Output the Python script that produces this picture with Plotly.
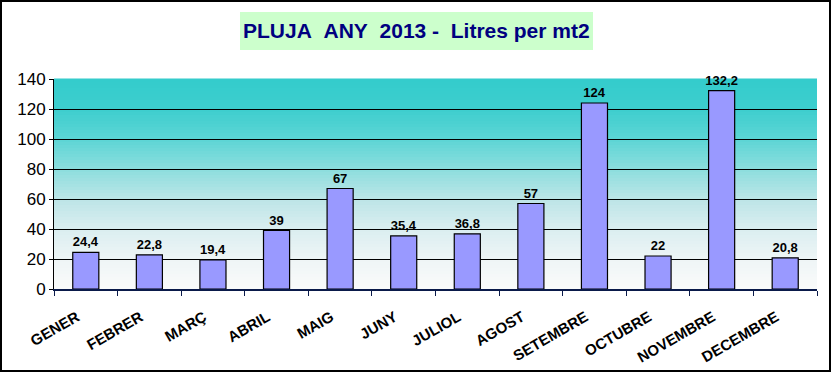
import plotly.graph_objects as go

months = ["GENER", "FEBRER", "MARÇ", "ABRIL", "MAIG", "JUNY", "JULIOL",
          "AGOST", "SETEMBRE", "OCTUBRE", "NOVEMBRE", "DECEMBRE"]
rain = [24.4, 22.8, 19.4, 39, 67, 35.4, 36.8, 57, 124, 22, 132.2, 20.8]
y_ticks = [0, 20, 40, 60, 80, 100, 120, 140]
title_text = "PLUJA\u00a0\u00a0ANY\u00a0\u00a02013\u00a0-\u00a0\u00a0Litres per mt2"

labels = [f"{v:g}".replace(".", ",") for v in rain]

W, H = 833, 373
L, R, T, B = 54, 16, 79, 84
PW, PH = W - L - R, H - T - B


def px(x):
    return (x - L) / PW


def py(y):
    return (H - B - y) / PH


FONT = "Arial, Liberation Sans, sans-serif"

fig = go.Figure(go.Bar(
    x=months, y=rain, text=labels, textposition="outside",
    textfont=dict(family=FONT, size=13, color="black", weight="bold"),
    marker=dict(color="#9999FF", line=dict(color="black", width=1.2)),
    cliponaxis=False, constraintext="none",
))

# gradient background (styling)
anchors = [(0.0, (250, 251, 251)), (1/7, (238, 245, 246)), (2/7, (218, 238, 240)),
           (3/7, (188, 229, 231)), (4/7, (140, 222, 222)), (5/7, (92, 213, 213)),
           (6/7, (62, 206, 206)), (1.0, (51, 204, 204))]
shapes = []
N = 70
for i in range(N):
    f0, f1 = i / N, (i + 1) / N
    fm = (f0 + f1) / 2
    for j in range(len(anchors) - 1):
        a, ca = anchors[j]
        b, cb = anchors[j + 1]
        if a <= fm <= b:
            t = (fm - a) / (b - a)
            c = tuple(int(round(ca[k] + (cb[k] - ca[k]) * t)) for k in range(3))
            break
    shapes.append(dict(type="rect", xref="paper", yref="paper", x0=0, x1=1,
                       y0=f0, y1=f1 + 0.002, fillcolor=f"rgb{c}",
                       line=dict(width=0), layer="below"))

# title box
shapes.append(dict(type="rect", xref="paper", yref="paper",
                   x0=px(240), x1=px(593), y0=py(50), y1=py(12),
                   fillcolor="#CCFFCC", line=dict(width=0), layer="above"))
# outer frame
shapes.append(dict(type="rect", xref="paper", yref="paper",
                   x0=px(1), x1=px(830), y0=py(371), y1=py(1),
                   fillcolor="rgba(0,0,0,0)", line=dict(color="black", width=2),
                   layer="above"))

fig.update_layout(
    width=W, height=H,
    margin=dict(l=L, r=R, t=T, b=B, pad=0, autoexpand=False),
    paper_bgcolor="white", plot_bgcolor="white",
    showlegend=False,
    bargap=0.59,
    shapes=shapes,
    annotations=[dict(text=title_text, xref="paper", yref="paper",
                      x=px(416.5), y=py(31), xanchor="center", yanchor="middle",
                      showarrow=False,
                      font=dict(family=FONT, size=21, color="#000080", weight="bold"))],
    font=dict(family=FONT, color="black"),
)
fig.update_xaxes(
    type="category", tickangle=-30, tickson="boundaries", ticks="outside",
    ticklen=5, tickcolor="#0a1a4a", showline=True, linecolor="#0a1a4a",
    linewidth=1.5, showgrid=False, automargin=False,
    tickfont=dict(family=FONT, size=15, color="black", weight="bold"),
    ticklabelstandoff=12, ticklabelshift=-9,
)
fig.update_yaxes(
    range=[0, 140], tickvals=y_ticks, ticks="outside", ticklen=4,
    tickcolor="black", showline=True, linecolor="black", linewidth=1,
    showgrid=True, gridcolor="black", gridwidth=1, zeroline=False,
    automargin=False,
    tickfont=dict(family=FONT, size=17, color="black"),
)

fig.write_html("out.html",
               config={"displayModeBar": False},
               post_script="document.body.style.margin='0';"
                           "document.body.style.overflow='hidden';")
